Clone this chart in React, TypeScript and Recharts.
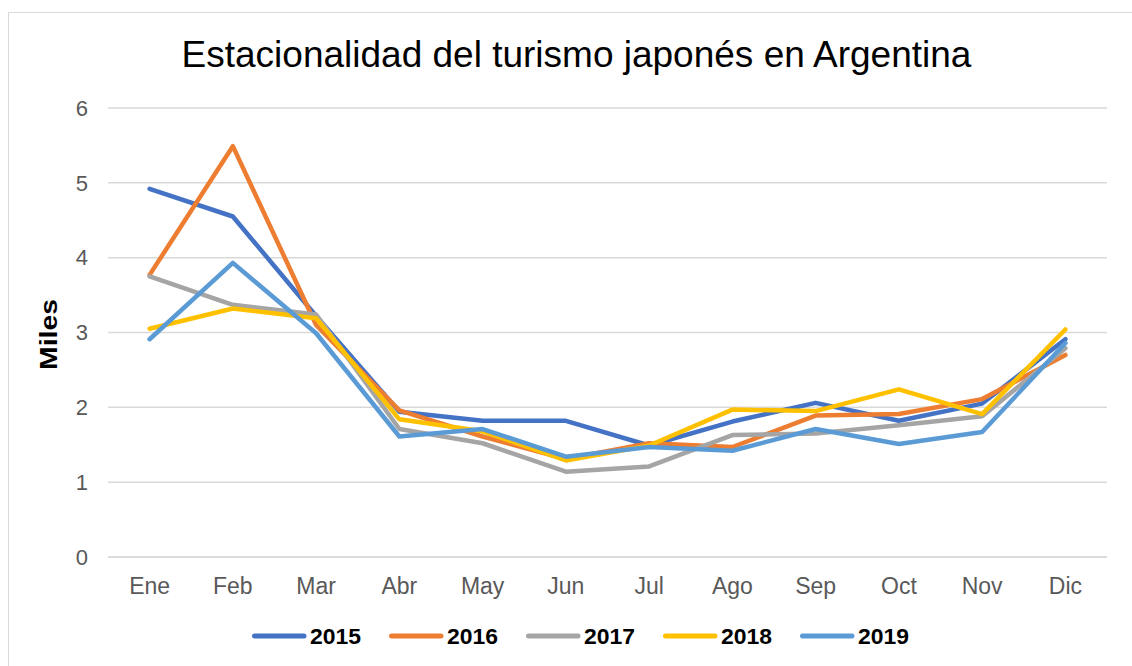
import React from "react";
import {
  CartesianGrid,
  Legend,
  Line,
  LineChart,
  XAxis,
  YAxis,
} from "recharts";

const MONTHS = ["Ene", "Feb", "Mar", "Abr", "May", "Jun", "Jul", "Ago", "Sep", "Oct", "Nov", "Dic"];

const Y2015 = [4.92, 4.55, 3.22, 1.94, 1.82, 1.82, 1.49, 1.81, 2.06, 1.82, 2.05, 2.91];
const Y2016 = [3.77, 5.49, 3.1, 1.96, 1.61, 1.31, 1.52, 1.47, 1.89, 1.91, 2.11, 2.7];
const Y2017 = [3.75, 3.37, 3.24, 1.71, 1.52, 1.14, 1.21, 1.63, 1.65, 1.76, 1.88, 2.79];
const Y2018 = [3.05, 3.32, 3.19, 1.84, 1.68, 1.29, 1.49, 1.97, 1.95, 2.24, 1.91, 3.04];
const Y2019 = [2.91, 3.93, 2.99, 1.61, 1.71, 1.34, 1.47, 1.42, 1.71, 1.51, 1.67, 2.86];

const Y_TICKS = [0, 1, 2, 3, 4, 5, 6];

const SERIES = [
  { key: "2015", values: Y2015, color: "#4472C4" },
  { key: "2016", values: Y2016, color: "#ED7D31" },
  { key: "2017", values: Y2017, color: "#A5A5A5" },
  { key: "2018", values: Y2018, color: "#FFC000" },
  { key: "2019", values: Y2019, color: "#5B9BD5" },
];

const data = MONTHS.map((m, i) => {
  const row: Record<string, string | number> = { month: m };
  SERIES.forEach((s) => {
    row[s.key] = s.values[i];
  });
  return row;
});

const FONT = "'Liberation Sans', Arial, sans-serif";

// legend marker line + label, spaced like the excel legend
function LegendContent({ payload }: any) {
  return (
    <div style={{ display: "flex", alignItems: "center", height: 24 }}>
      {(payload || []).map((p: any) => (
        <svg key={p.value} width={137} height={24} style={{ display: "block" }}>
          <line x1={2.5} y1={12} x2={52} y2={12} stroke={p.color} strokeWidth={5} strokeLinecap="round" />
          <text
            x={58}
            y={12}
            dominantBaseline="central"
            fontFamily={FONT}
            fontWeight={700}
            fontSize={22}
            textLength={51}
            lengthAdjust="spacingAndGlyphs"
            fill="#000"
          >
            {p.value}
          </text>
        </svg>
      ))}
    </div>
  );
}

export default function App() {
  return (
    <div style={{ position: "fixed", inset: 0, overflow: "hidden", background: "#fff" }}>
      <div
        style={{
          position: "absolute",
          left: 8,
          top: 12,
          width: 1140,
          height: 680,
          border: "1px solid #d9d9d9",
          boxSizing: "border-box",
        }}
      >
        <div
          style={{
            position: "absolute",
            left: 0,
            top: 23,
            width: 1135,
            textAlign: "center",
            fontFamily: FONT,
            fontSize: 37,
            lineHeight: "37px",
            color: "#000",
          }}
        >
          Estacionalidad del turismo japonés en Argentina
        </div>
        <LineChart
          width={1124}
          height={653}
          data={data}
          margin={{ top: 95, right: 26, bottom: 69, left: 9 }}
        >
          <CartesianGrid vertical={false} stroke="#d9d9d9" strokeWidth={1.5} />
          <XAxis
            dataKey="month"
            padding={{ left: 41.6, right: 41.6 }}
            axisLine={{ stroke: "#d9d9d9", strokeWidth: 1.5 }}
            tickLine={false}
            tickMargin={15}
            height={40}
            interval={0}
            tick={{ fill: "#595959", fontSize: 23, fontFamily: FONT }}
          />
          <YAxis
            width={90}
            domain={[0, 6]}
            ticks={Y_TICKS}
            axisLine={false}
            tickLine={false}
            tickMargin={14}
            tick={{ fill: "#595959", fontSize: 22, fontFamily: FONT }}
            label={(props: any) => {
              const vb = props.viewBox || {};
              const x = 39;
              const y = (vb.y || 0) + (vb.height || 0) / 2 + 2;
              return (
                <text
                  x={x}
                  y={y}
                  transform={`rotate(-90, ${x}, ${y})`}
                  textAnchor="middle"
                  dominantBaseline="central"
                  fontFamily={FONT}
                  fontWeight={700}
                  fontSize={24}
                  textLength={71}
                  lengthAdjust="spacingAndGlyphs"
                  fill="#000"
                >
                  Miles
                </text>
              );
            }}
          />
          <Legend
            layout="horizontal"
            verticalAlign="middle"
            align="center"
            wrapperStyle={{ top: 611, left: 243, width: 700, height: 24 }}
            content={<LegendContent />}
          />
          {SERIES.map((s) => (
            <Line
              key={s.key}
              type="linear"
              dataKey={s.key}
              name={s.key}
              stroke={s.color}
              strokeWidth={4.5}
              strokeLinecap="round"
              strokeLinejoin="round"
              dot={false}
              activeDot={false}
              isAnimationActive={false}
            />
          ))}
        </LineChart>
      </div>
    </div>
  );
}
